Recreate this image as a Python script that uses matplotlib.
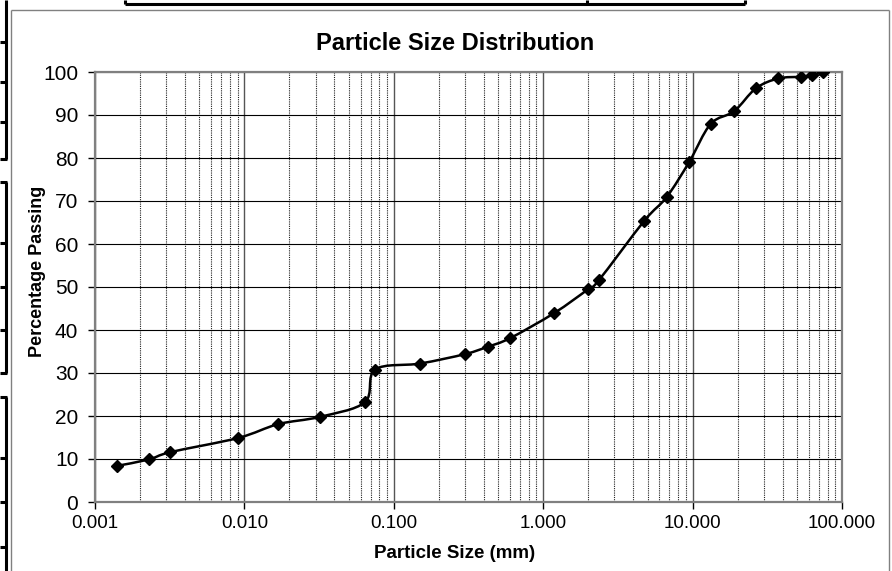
import numpy as np
import matplotlib
matplotlib.use('Agg')
import matplotlib.pyplot as plt
from matplotlib.path import Path
from matplotlib.patches import PathPatch
from matplotlib.lines import Line2D

plt.rcParams['font.family'] = ['Liberation Sans', 'DejaVu Sans']

# sieve + hydrometer results
size_mm = [0.0014, 0.0023, 0.0032, 0.0091, 0.0168, 0.032, 0.064, 0.075,
           0.15, 0.3, 0.425, 0.6, 1.18, 2.0, 2.36, 4.75, 6.7, 9.5,
           13.2, 19.0, 26.5, 37.5, 53.0, 63.0, 75.0]
passing = [8.4, 9.9, 11.6, 14.9, 18.1, 19.8, 23.2, 30.8,
           32.2, 34.4, 36.1, 38.1, 43.9, 49.5, 51.6, 65.4, 70.9, 79.1,
           87.9, 90.9, 96.2, 98.5, 98.9, 99.3, 100.0]

x_ticks = [0.001, 0.01, 0.1, 1, 10, 100]
x_tick_labels = ['0.001', '0.010', '0.100', '1.000', '10.000', '100.000']
y_ticks = list(range(0, 101, 10))

W, H = 892, 571
fig = plt.figure(figsize=(W / 100, H / 100), dpi=100)


def fx(px):
    return px / W


def fy(py):
    return 1 - py / H


# spreadsheet cell borders around the chart
def fig_line(xs, ys, color='black', lw=2.2):
    fig.add_artist(Line2D([fx(v) for v in xs], [fy(v) for v in ys],
                          color=color, lw=lw, solid_capstyle='butt'))


# top box (cut off)
fig_line([125, 745], [4, 4])
for xv in [125, 587, 745]:
    fig_line([xv, xv], [0, 4])

# left column cells
for (a, b) in [(0, 159), (182, 373), (397, 571)]:
    fig_line([5.5, 5.5], [a, b])
for yv in [42, 82, 122, 159, 182, 243, 287, 330, 373, 397, 458, 502, 547]:
    fig_line([0, 7], [yv, yv])

# chart area border
fig_line([11, 889], [10, 10], color='#808080', lw=1)
fig_line([11, 11], [10, 571], color='#808080', lw=1)
fig_line([889, 889], [10, 571], color='#808080', lw=1)

ax = fig.add_axes([fx(95), fy(502), fx(842) - fx(95), fy(72) - fy(502)])
ax.set_xscale('log')
ax.set_xlim(0.001, 100)
ax.set_ylim(0, 100)

# grid
ax.set_xticks(x_ticks)
ax.set_xticklabels(x_tick_labels)
ax.set_yticks(y_ticks)
ax.xaxis.set_minor_locator(matplotlib.ticker.LogLocator(base=10, subs=np.arange(2, 10)))
ax.xaxis.set_minor_formatter(matplotlib.ticker.NullFormatter())
ax.grid(True, which='major', axis='y', color='black', lw=0.8)
ax.grid(True, which='major', axis='x', color='#555555', lw=1.0)
ax.grid(True, which='minor', axis='x', color='#222222', lw=0.8, linestyle=(0, (1, 1)))
ax.set_axisbelow(True)

for s in ax.spines.values():
    s.set_color('#808080')
    s.set_linewidth(1.6)

ax.tick_params(axis='both', which='major', direction='out', length=5, width=1, color='black')
ax.tick_params(axis='x', which='minor', length=0)
ax.tick_params(axis='y', labelsize=15, pad=7)
ax.tick_params(axis='x', labelsize=13.5, pad=4)

# smoothed line (Catmull-Rom style bezier in log-x space, like Excel's smoothed line)
lx = np.log10(size_mm)
py = np.array(passing)
pts = np.column_stack([lx, py])
verts = [pts[0]]
codes = [Path.MOVETO]
n = len(pts)
for i in range(n - 1):
    p_prev = pts[i - 1] if i > 0 else pts[i]
    p_next2 = pts[i + 2] if i + 2 < n else pts[i + 1]
    c1 = pts[i] + (pts[i + 1] - p_prev) / 6
    c2 = pts[i + 1] - (p_next2 - pts[i]) / 6
    verts += [c1, c2, pts[i + 1]]
    codes += [Path.CURVE4] * 3
verts = np.array(verts)
verts[:, 0] = 10 ** verts[:, 0]
ax.add_patch(PathPatch(Path(verts, codes), fill=False, edgecolor='black', lw=1.8, zorder=3))

ax.plot(size_mm, passing, linestyle='none', marker='D', markersize=6.5,
        color='black', zorder=4)

fig.text(fx(455), fy(43), 'Particle Size Distribution', ha='center', va='center',
         fontsize=17, fontweight='bold')
fig.text(fx(455), fy(554), 'Particle Size (mm)', ha='center', va='center',
         fontsize=13.5, fontweight='bold')
fig.text(fx(38), fy(271), 'Percentage Passing', ha='center', va='center',
         rotation=90, fontsize=13, fontweight='bold')

fig.savefig('out.png', dpi=100)
